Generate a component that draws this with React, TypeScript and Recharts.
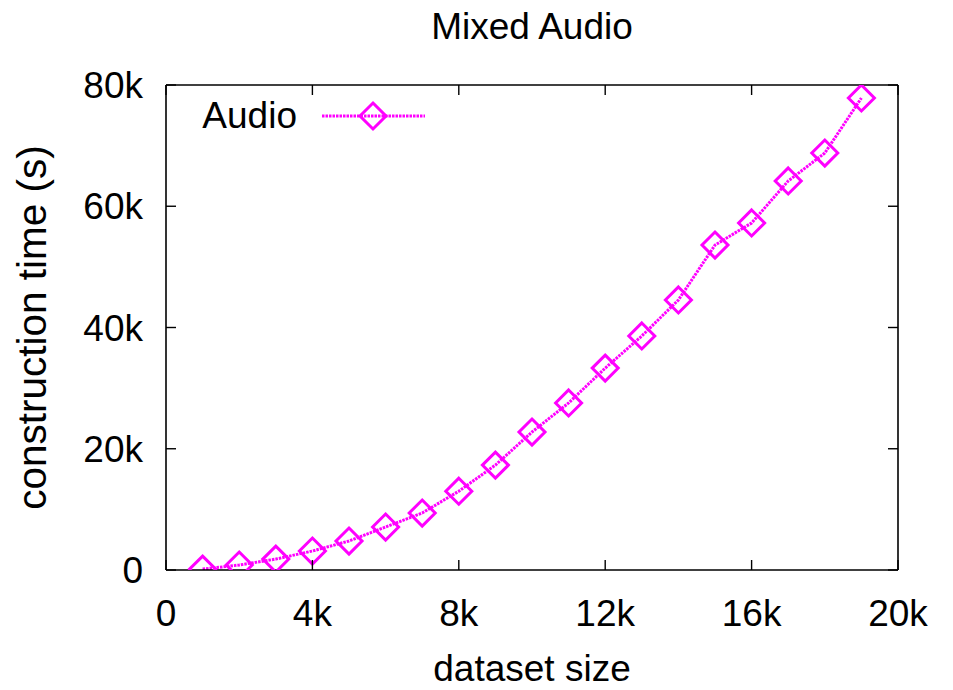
import React from 'react';
import { LineChart, Line, XAxis, YAxis, Legend, Label } from 'recharts';

// Construction time (seconds) against dataset size for the mixed audio set
const datasetSize = [
  1000, 2000, 3000, 4000, 5000, 6000, 7000, 8000, 9000, 10000,
  11000, 12000, 13000, 14000, 15000, 16000, 17000, 18000, 19000,
];
const constructionTime = [
  150, 820, 1800, 3130, 4780, 7090, 9400, 13000, 17300, 22760,
  27550, 33300, 38600, 44540, 53600, 57240, 64170, 68780, 77860,
];
const xTicks = [0, 4000, 8000, 12000, 16000, 20000];
const yTicks = [0, 20000, 40000, 60000, 80000];
const seriesName = 'Audio';
const chartTitle = 'Mixed Audio';
const xTitle = 'dataset size';
const yTitle = 'construction time (s)';

const rows = datasetSize.map((size, i) => ({ size, time: constructionTime[i] }));

const W = 953;
const H = 690;
const MARGIN = { top: 85, right: 55, left: 0, bottom: 0 };
const X_AXIS_H = 120;
const Y_AXIS_W = 166;
const PLOT_TOP = MARGIN.top;
const PLOT_RIGHT = W - MARGIN.right;
const MAGENTA = '#ff00ff';
const INK = '#000';
const FONT = '"Liberation Sans", Arial, Helvetica, sans-serif';
const FS = 37;
const Y_TITLE_FS = 40.5;
const TICK_LEN = 10;
const X_LABEL_GAP = 56;
const Y_LABEL_GAP = 23;
const DIAMOND_R = 13;
const LINE_W = 3;
const LINE_DASH = '2.5 1';

const kFormat = (v: number) => (v === 0 ? '0' : `${v / 1000}k`);

// Bottom tick: label plus inward tick marks on the bottom and mirrored top edge
const XTick = (props: any) => {
  const { x, y, payload } = props;
  const axisY = y - X_LABEL_GAP;
  return (
    <g>
      <line x1={x} y1={axisY} x2={x} y2={axisY - TICK_LEN} stroke={INK} strokeWidth={1.4} />
      <line x1={x} y1={PLOT_TOP} x2={x} y2={PLOT_TOP + TICK_LEN} stroke={INK} strokeWidth={1.4} />
      <text x={x} y={y} textAnchor="middle" fontFamily={FONT} fontSize={FS} fill={INK}>
        {kFormat(payload.value)}
      </text>
    </g>
  );
};

// Left tick: label plus inward tick marks on the left and mirrored right edge
const YTick = (props: any) => {
  const { x, y, payload } = props;
  const axisX = x + Y_LABEL_GAP;
  return (
    <g>
      <line x1={axisX} y1={y} x2={axisX + TICK_LEN} y2={y} stroke={INK} strokeWidth={1.4} />
      <line x1={PLOT_RIGHT} y1={y} x2={PLOT_RIGHT - TICK_LEN} y2={y} stroke={INK} strokeWidth={1.4} />
      <text x={x} y={y + 13} textAnchor="end" fontFamily={FONT} fontSize={FS} fill={INK}>
        {kFormat(payload.value)}
      </text>
    </g>
  );
};

const diamondPoints = (cx: number, cy: number, r: number) =>
  `${cx},${cy - r} ${cx + r},${cy} ${cx},${cy + r} ${cx - r},${cy}`;

const DiamondDot = (props: any) => {
  const { cx, cy, index } = props;
  if (cx == null || cy == null) return <g key={`d-${index}`} />;
  return (
    <polygon
      key={`d-${index}`}
      points={diamondPoints(cx, cy, DIAMOND_R)}
      fill="none"
      stroke={MAGENTA}
      strokeWidth={3}
    />
  );
};

const LegendBox = (props: any) => {
  const entries = props.payload || [];
  return (
    <svg width={260} height={50} style={{ display: 'block' }}>
      {entries.map((e: any, i: number) => (
        <g key={i}>
          <text x={117} y={38} textAnchor="end" fontFamily={FONT} fontSize={FS} fill={INK}>
            {e.value}
          </text>
          <line x1={142} y1={26} x2={245} y2={26} stroke={e.color} strokeWidth={LINE_W} strokeDasharray={LINE_DASH} />
          <polygon points={diamondPoints(193, 26, DIAMOND_R)} fill="none" stroke={e.color} strokeWidth={3} />
        </g>
      ))}
    </svg>
  );
};

export default function App() {
  return (
    <div style={{ position: 'absolute', left: 0, top: 0, width: W, height: H, background: '#fff' }}>
      <div
        style={{
          position: 'absolute',
          left: Y_AXIS_W,
          width: PLOT_RIGHT - Y_AXIS_W,
          top: 8,
          textAlign: 'center',
          fontFamily: FONT,
          fontSize: FS,
          lineHeight: `${FS}px`,
          color: INK,
        }}
      >
        {chartTitle}
      </div>
      <LineChart width={W} height={H} data={rows} margin={MARGIN}>
        <XAxis
          dataKey="size"
          type="number"
          domain={[0, 20000]}
          ticks={xTicks}
          interval={0}
          height={X_AXIS_H}
          tickSize={0}
          tickMargin={X_LABEL_GAP}
          tick={<XTick />}
          axisLine={{ stroke: INK, strokeWidth: 1.6 }}
          allowDataOverflow
        >
          <Label value={xTitle} position="insideBottom" offset={9} fill={INK} fontSize={FS} fontFamily={FONT} />
        </XAxis>
        <XAxis
          xAxisId="top"
          orientation="top"
          type="number"
          domain={[0, 20000]}
          mirror
          tick={false}
          tickLine={false}
          axisLine={{ stroke: INK, strokeWidth: 1.6 }}
        />
        <YAxis
          type="number"
          domain={[0, 80000]}
          ticks={yTicks}
          interval={0}
          width={Y_AXIS_W}
          tickSize={0}
          tickMargin={Y_LABEL_GAP}
          tick={<YTick />}
          axisLine={{ stroke: INK, strokeWidth: 1.6 }}
          allowDataOverflow
        >
          <Label
            value={yTitle}
            angle={-90}
            position="insideLeft"
            offset={32}
            fill={INK}
            fontSize={Y_TITLE_FS}
            fontFamily={FONT}
            style={{ textAnchor: 'middle' }}
          />
        </YAxis>
        <YAxis
          yAxisId="right"
          orientation="right"
          type="number"
          domain={[0, 80000]}
          mirror
          tick={false}
          tickLine={false}
          axisLine={{ stroke: INK, strokeWidth: 1.6 }}
        />
        <Legend
          layout="vertical"
          verticalAlign="middle"
          align="center"
          content={<LegendBox />}
          wrapperStyle={{ left: 180, top: 90, width: 260, height: 50 }}
        />
        <Line
          name={seriesName}
          dataKey="time"
          type="linear"
          stroke={MAGENTA}
          strokeWidth={LINE_W}
          strokeDasharray={LINE_DASH}
          dot={DiamondDot}
          activeDot={false}
          isAnimationActive={false}
        />
      </LineChart>
    </div>
  );
}
